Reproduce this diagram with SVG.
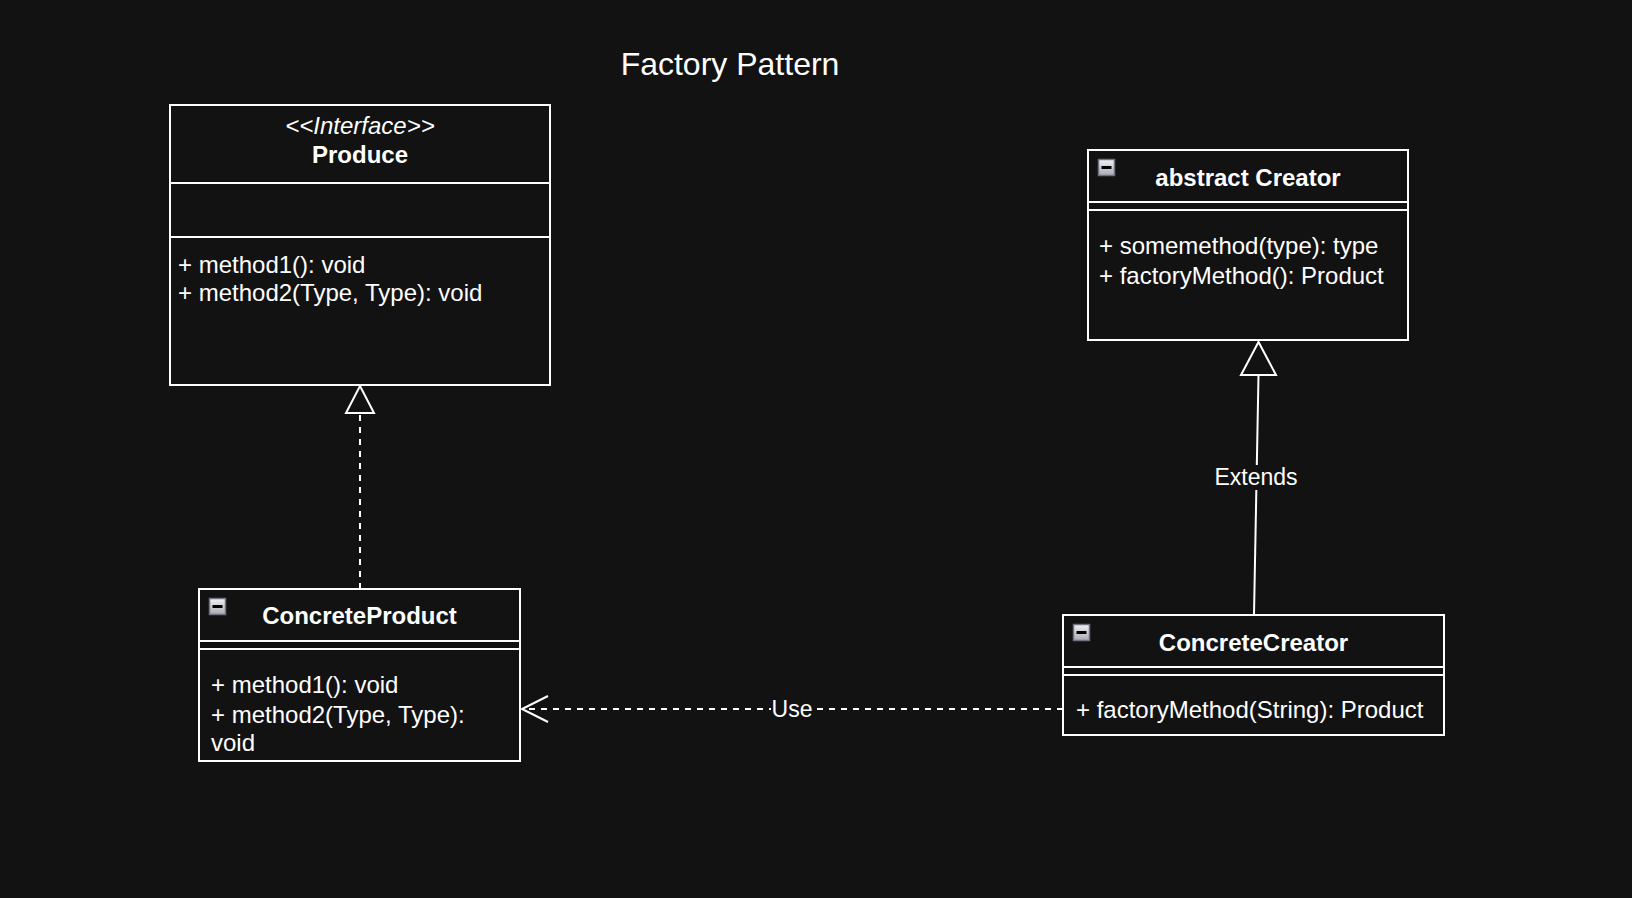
<svg xmlns="http://www.w3.org/2000/svg" width="1632" height="898" viewBox="0 0 1632 898">
<defs>
<style>
.box{fill:#121212;stroke:#ffffff;stroke-width:2}
.ln{stroke:#ffffff;stroke-width:2;fill:none}
.t{font-family:"Liberation Sans",Arial,sans-serif;font-size:24px;fill:#ffffff}
.b{font-weight:bold;text-anchor:middle}
.lbl{font-family:"Liberation Sans",Arial,sans-serif;font-size:23px;fill:#ffffff;text-anchor:middle}
.dash{stroke-dasharray:6 6}
</style>
<linearGradient id="ig" x1="0" y1="0" x2="0" y2="1">
<stop offset="0" stop-color="#f2f2f2"/>
<stop offset="1" stop-color="#a8aab4"/>
</linearGradient>
<g id="icon">
<rect x="0.5" y="0.5" width="16" height="16" fill="url(#ig)" stroke="#6e7280" stroke-width="1.5"/>
<rect x="3.5" y="7" width="10" height="3" fill="#000000"/>
</g>
</defs>
<rect x="0" y="0" width="1632" height="898" fill="#121212"/>
<text x="730" y="75" style="font-family:'Liberation Sans',Arial,sans-serif;font-size:32px;fill:#ffffff;text-anchor:middle">Factory Pattern</text>

<g id="connectors">
<line class="ln dash" x1="360" y1="589" x2="360" y2="413"/>
<polygon class="ln" points="360,386 346,413 374,413"/>
<line class="ln" x1="1254" y1="615" x2="1258.5" y2="375"/>
<polygon class="ln" points="1258.5,342 1241,375 1276,375"/>
<rect x="1212" y="465" width="90" height="25" fill="#121212"/>
<text class="lbl" x="1256" y="485">Extends</text>
<line class="ln dash" x1="1063" y1="709" x2="523" y2="709"/>
<polyline class="ln" points="548,696 522,709 548,722"/>
<rect x="771" y="696" width="42" height="26" fill="#121212"/>
<text class="lbl" x="792" y="717">Use</text>
</g>

<g id="produce">
<rect class="box" x="170" y="105" width="380" height="280"/>
<line class="ln" x1="170" y1="183" x2="550" y2="183"/>
<line class="ln" x1="170" y1="237" x2="550" y2="237"/>
<text class="t" x="360" y="134" text-anchor="middle" font-style="italic">&lt;&lt;Interface&gt;&gt;</text>
<text class="t b" x="360" y="163">Produce</text>
<text class="t" x="178" y="273">+ method1(): void</text>
<text class="t" x="178" y="301">+ method2(Type, Type): void</text>
</g>

<g id="creator">
<rect class="box" x="1088" y="150" width="320" height="190"/>
<line class="ln" x1="1088" y1="202" x2="1408" y2="202"/>
<line class="ln" x1="1088" y1="210" x2="1408" y2="210"/>
<use href="#icon" x="1098" y="159"/>
<text class="t b" x="1248" y="186">abstract Creator</text>
<text class="t" x="1099" y="254">+ somemethod(type): type</text>
<text class="t" x="1099" y="284">+ factoryMethod(): Product</text>
</g>

<g id="concreteProduct">
<rect class="box" x="199" y="589" width="321" height="172"/>
<line class="ln" x1="199" y1="641" x2="520" y2="641"/>
<line class="ln" x1="199" y1="649" x2="520" y2="649"/>
<use href="#icon" x="209" y="598"/>
<text class="t b" x="359.5" y="624">ConcreteProduct</text>
<text class="t" x="211" y="693">+ method1(): void</text>
<text class="t" x="211" y="723">+ method2(Type, Type):</text>
<text class="t" x="211" y="751">void</text>
</g>

<g id="concreteCreator">
<rect class="box" x="1063" y="615" width="381" height="120"/>
<line class="ln" x1="1063" y1="667" x2="1444" y2="667"/>
<line class="ln" x1="1063" y1="675" x2="1444" y2="675"/>
<use href="#icon" x="1073" y="624"/>
<text class="t b" x="1253.5" y="651">ConcreteCreator</text>
<text class="t" x="1076" y="718">+ factoryMethod(String): Product</text>
</g>
</svg>
